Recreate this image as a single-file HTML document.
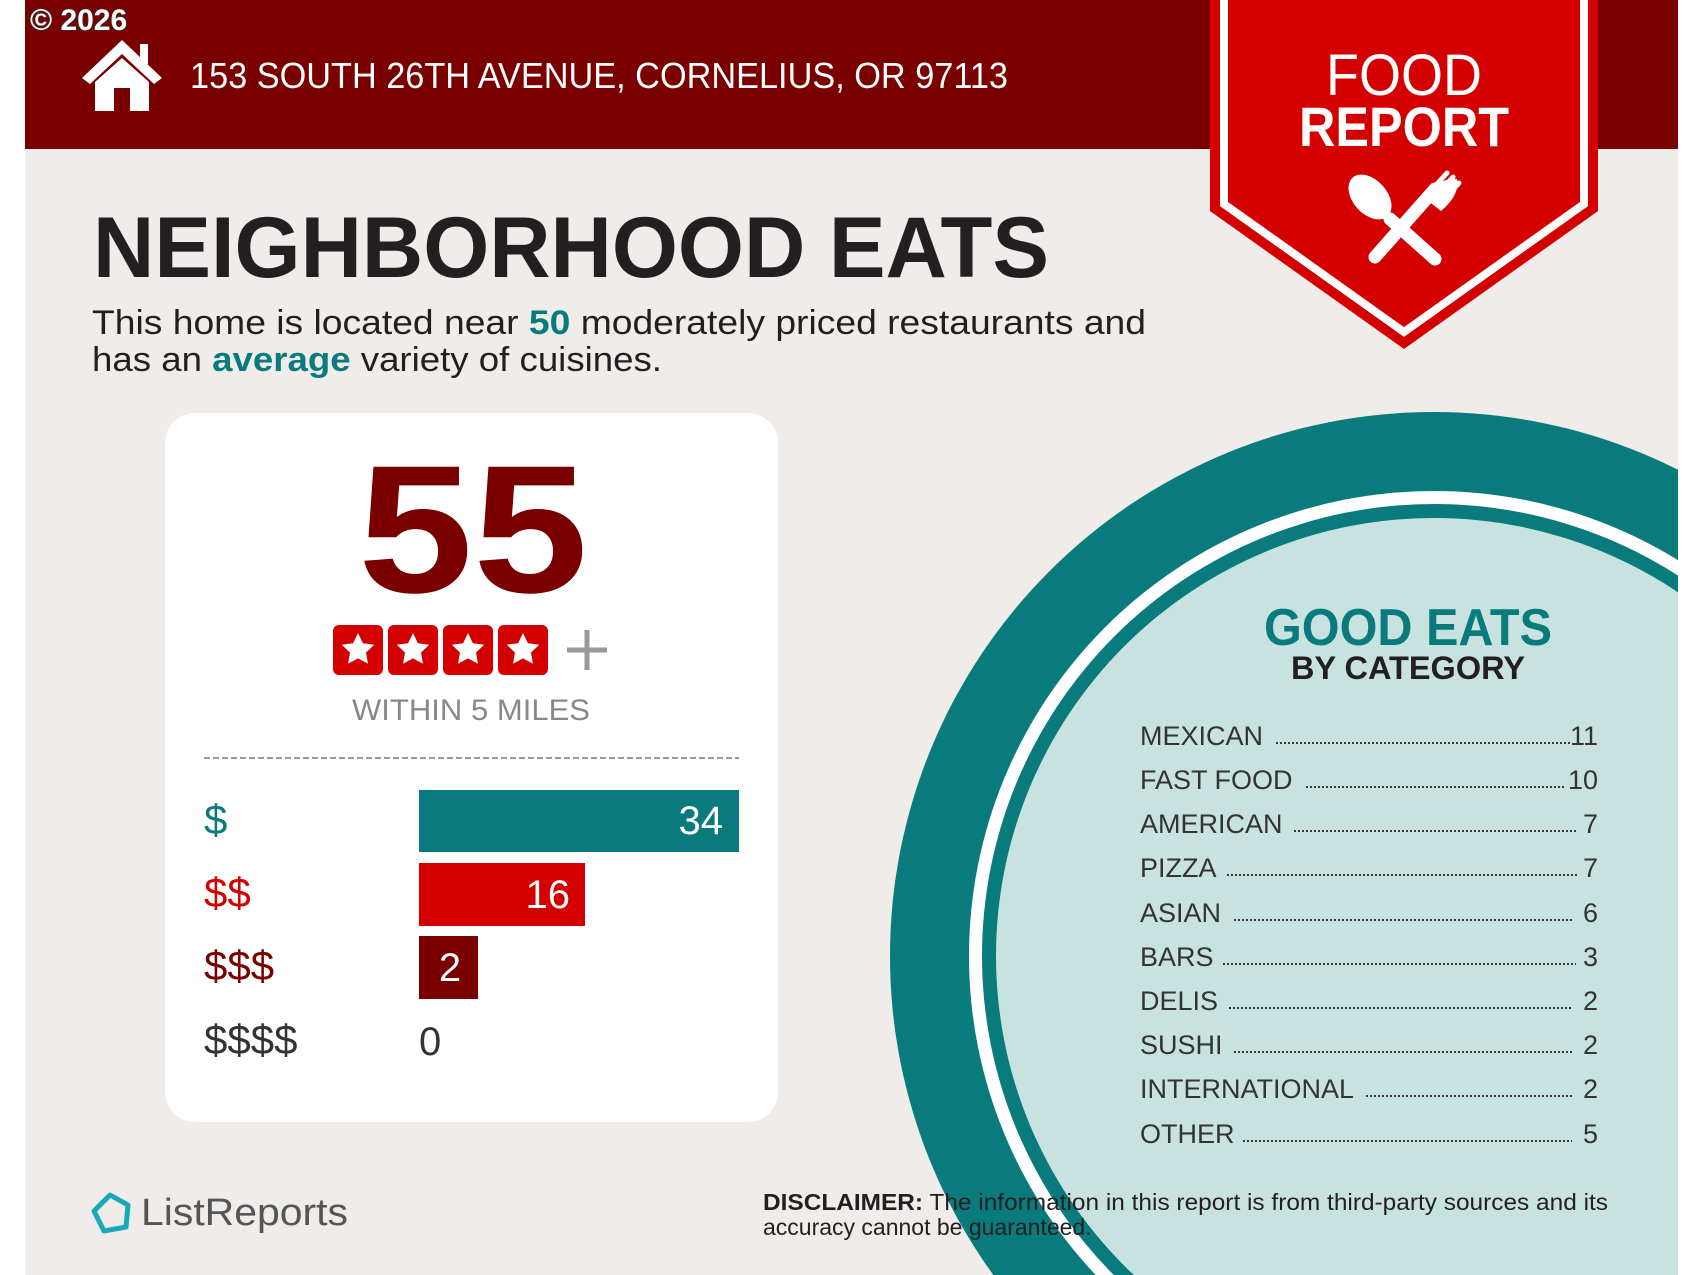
<!DOCTYPE html>
<html><head><meta charset="utf-8"><style>
html,body{margin:0;padding:0;background:#fff;width:1700px;height:1275px;overflow:hidden;}
svg{display:block;}
text{font-family:"Liberation Sans",Arial,sans-serif;}
</style></head><body>
<svg width="1700" height="1275" viewBox="0 0 1700 1275" xmlns="http://www.w3.org/2000/svg">
<defs>
<clipPath id="pg"><rect x="25" y="0" width="1653" height="1275"/></clipPath>
<g id="star"><rect x="-25" y="-25" width="50" height="50" rx="6" fill="#d40000"/>
<polygon fill="#fff" points="0,-17 4.9,-6.8 16.2,-5.3 8,2.6 10,13.8 0,8.4 -10,13.8 -8,2.6 -16.2,-5.3 -4.9,-6.8"/></g>
</defs>
<rect x="25" y="0" width="1653" height="1275" fill="#efecea"/>
<rect x="25" y="0" width="1653" height="149" fill="#7a0000"/>
<g clip-path="url(#pg)">
<circle cx="1434" cy="956" r="544" fill="#0a7b7d"/>
<circle cx="1434" cy="956" r="465" fill="#fff"/>
<circle cx="1434" cy="956" r="452" fill="#0a7b7d"/>
<circle cx="1434" cy="956" r="438" fill="#c8e2df"/>
</g>
<text x="30" y="30" font-size="30" font-weight="bold" fill="#fff" stroke="#333" stroke-width="1.5" paint-order="stroke">© 2026</text>
<g fill="#fff">
<polygon points="122,40 82,78 90,84 122,54 154,84 162,78"/>
<rect x="140" y="44" width="8" height="20"/>
<polygon points="95,82 122,58 149,82 149,111 130,111 130,88 114,88 114,111 95,111"/>
</g>
<text x="190" y="88" font-size="36" fill="#fff" textLength="818" lengthAdjust="spacingAndGlyphs">153 SOUTH 26TH AVENUE, CORNELIUS, OR 97113</text>
<polygon points="1210,0 1598,0 1598,211 1404,349 1210,211" fill="#d40000"/>
<polyline points="1224,0 1224,204 1404,332 1584,204 1584,0" fill="none" stroke="#fff" stroke-width="8"/>
<text x="1404" y="95" font-size="58" fill="#fff" text-anchor="middle" textLength="156" lengthAdjust="spacingAndGlyphs">FOOD</text>
<text x="1404" y="146" font-size="56" font-weight="bold" fill="#fff" text-anchor="middle" textLength="210" lengthAdjust="spacingAndGlyphs">REPORT</text>
<g fill="#fff" stroke="#fff">
<line x1="1390" y1="219" x2="1435" y2="259" stroke-width="13" stroke-linecap="round"/>
<ellipse cx="1370" cy="197" rx="17" ry="26" transform="rotate(-42 1370 197)" stroke="none"/>
<line x1="1435" y1="189" x2="1375" y2="257" stroke-width="13" stroke-linecap="round"/>
<path d="M1427,195 L1447,173 M1433,199 L1453,177 M1439,205 L1459,183" stroke-width="5" stroke-linecap="round"/>
<path d="M1423,197 Q1440,177 1457,179 Q1460,195 1441,211 Z" stroke="none"/>
</g>
<text x="93" y="277" font-size="86" font-weight="bold" fill="#231f20" textLength="956" lengthAdjust="spacingAndGlyphs">NEIGHBORHOOD EATS</text>
<text x="92" y="334" font-size="34" fill="#231f20" textLength="1054" lengthAdjust="spacingAndGlyphs">This home is located near <tspan fill="#0a7b7d" font-weight="bold">50</tspan> moderately priced restaurants and</text>
<text x="92" y="371" font-size="34" fill="#231f20" textLength="570" lengthAdjust="spacingAndGlyphs">has an <tspan fill="#0a7b7d" font-weight="bold">average</tspan> variety of cuisines.</text>
<rect x="165" y="413" width="613" height="709" rx="30" fill="#fff"/>
<text x="473" y="592" font-size="182" font-weight="bold" fill="#7a0000" text-anchor="middle" textLength="230" lengthAdjust="spacingAndGlyphs">55</text>
<use href="#star" x="358" y="650"/>
<use href="#star" x="413" y="650"/>
<use href="#star" x="468" y="650"/>
<use href="#star" x="523" y="650"/>
<path d="M587,630 V670 M567,650 H607" stroke="#999" stroke-width="5"/>
<text x="471" y="720" font-size="30" fill="#888" text-anchor="middle" textLength="238" lengthAdjust="spacingAndGlyphs">WITHIN 5 MILES</text>
<line x1="204" y1="758" x2="739" y2="758" stroke="#999" stroke-width="2" stroke-dasharray="6,3"/>
<text x="204" y="834" font-size="42" fill="#0a7b7d">$</text>
<text x="204" y="907" font-size="42" fill="#d40000">$$</text>
<text x="204" y="980" font-size="42" fill="#7a0000">$$$</text>
<text x="204" y="1054" font-size="42" fill="#333">$$$$</text>
<rect x="419" y="790" width="320" height="62" fill="#0a7b7d"/>
<text x="723" y="834" font-size="40" fill="#fff" text-anchor="end">34</text>
<rect x="419" y="863" width="166" height="63" fill="#d40000"/>
<text x="570" y="908" font-size="40" fill="#fff" text-anchor="end">16</text>
<rect x="419" y="936" width="59" height="63" fill="#7a0000"/>
<text x="450" y="981" font-size="40" fill="#fff" text-anchor="middle">2</text>
<text x="419" y="1055" font-size="40" fill="#333">0</text>
<text x="1408" y="645" font-size="52" font-weight="bold" fill="#0a7b7d" text-anchor="middle" textLength="288" lengthAdjust="spacingAndGlyphs">GOOD EATS</text>
<text x="1408" y="679" font-size="32" font-weight="bold" fill="#231f20" text-anchor="middle" textLength="234" lengthAdjust="spacingAndGlyphs">BY CATEGORY</text>
<g font-size="27" fill="#333">
<text x="1140" y="745">MEXICAN</text><text x="1598" y="745" text-anchor="end">11</text>
<text x="1140" y="789">FAST FOOD</text><text x="1598" y="789" text-anchor="end">10</text>
<text x="1140" y="833">AMERICAN</text><text x="1598" y="833" text-anchor="end">7</text>
<text x="1140" y="877">PIZZA</text><text x="1598" y="877" text-anchor="end">7</text>
<text x="1140" y="922">ASIAN</text><text x="1598" y="922" text-anchor="end">6</text>
<text x="1140" y="966">BARS</text><text x="1598" y="966" text-anchor="end">3</text>
<text x="1140" y="1010">DELIS</text><text x="1598" y="1010" text-anchor="end">2</text>
<text x="1140" y="1054">SUSHI</text><text x="1598" y="1054" text-anchor="end">2</text>
<text x="1140" y="1098">INTERNATIONAL</text><text x="1598" y="1098" text-anchor="end">2</text>
<text x="1140" y="1143">OTHER</text><text x="1598" y="1143" text-anchor="end">5</text>
</g>
<g stroke="#333" stroke-width="2" stroke-dasharray="2,2">
<line x1="1276" y1="743" x2="1572" y2="743"/>
<line x1="1306" y1="787" x2="1564" y2="787"/>
<line x1="1294" y1="831" x2="1577" y2="831"/>
<line x1="1227" y1="875" x2="1577" y2="875"/>
<line x1="1234" y1="920" x2="1572" y2="920"/>
<line x1="1223" y1="964" x2="1576" y2="964"/>
<line x1="1229" y1="1008" x2="1572" y2="1008"/>
<line x1="1234" y1="1052" x2="1572" y2="1052"/>
<line x1="1366" y1="1096" x2="1572" y2="1096"/>
<line x1="1243" y1="1141" x2="1572" y2="1141"/>
</g>
<path d="M94,1211 L110,1195 L128,1205 L126,1227 L104,1231 Z" fill="none" stroke="#1aa9b8" stroke-width="5" stroke-linejoin="round"/>
<text x="141" y="1225" font-size="38" fill="#555" textLength="207" lengthAdjust="spacingAndGlyphs">ListReports</text>
<text x="763" y="1210" font-size="23" fill="#231f20" textLength="845" lengthAdjust="spacingAndGlyphs"><tspan font-weight="bold">DISCLAIMER:</tspan> The information in this report is from third-party sources and its</text>
<text x="763" y="1235" font-size="23" fill="#231f20">accuracy cannot be guaranteed.</text>
</svg>
</body></html>
